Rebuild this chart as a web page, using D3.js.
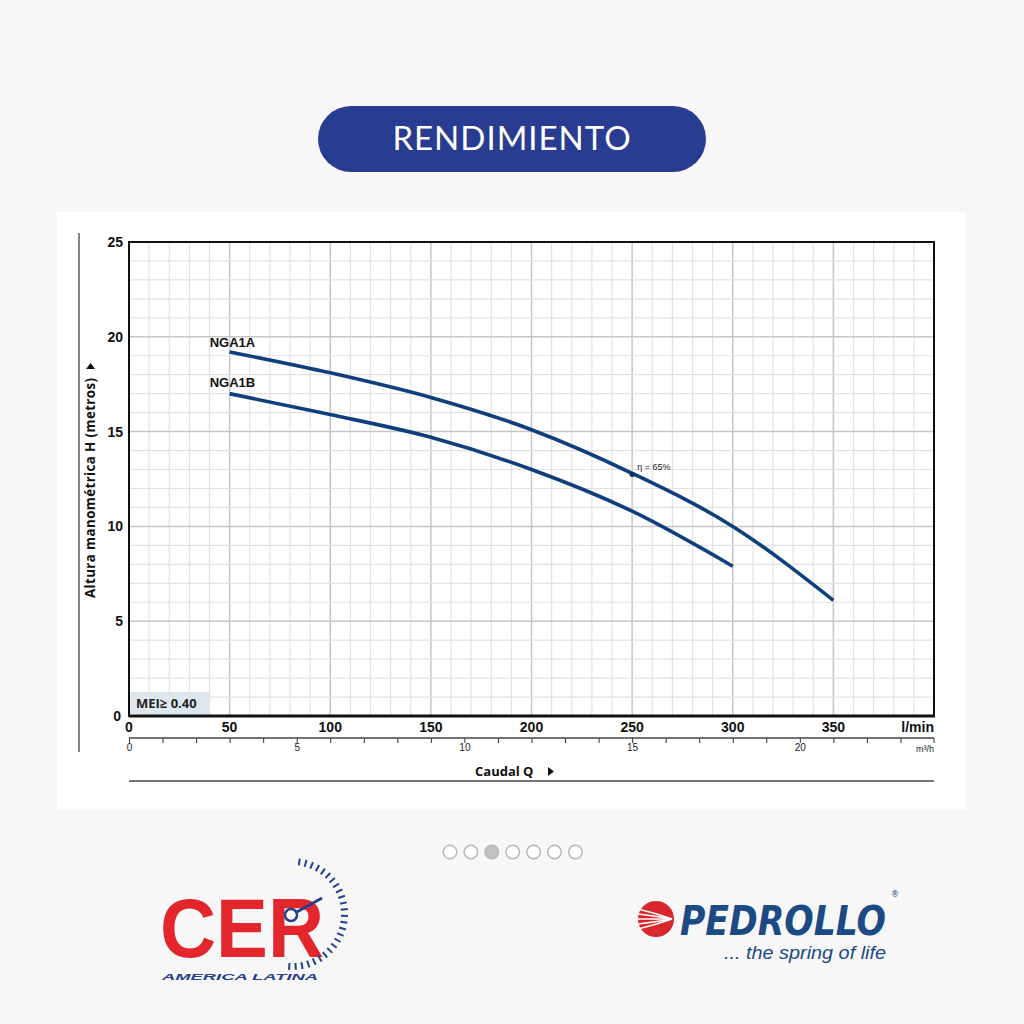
<!DOCTYPE html>
<html><head><meta charset="utf-8">
<script src="https://cdn.jsdelivr.net/npm/d3@7"></script>
<style>html,body{margin:0;padding:0;background:#f7f7f7;}svg{display:block;}</style>
</head><body>
<svg id="c" width="1024" height="1024"></svg>
<script>
// ---- data ----
const flowA = [50, 100, 150, 200, 250, 300, 350];          // l/min
const headNGA1A = [19.2, 18.1, 16.8, 15.1, 12.8, 10.0, 6.1]; // m
const flowB = [50, 100, 150, 200, 250, 300];
const headNGA1B = [17.0, 15.9, 14.7, 13.0, 10.8, 7.9];
const seriesNames = ["NGA1A", "NGA1B"];
const xTicksLmin = [0, 50, 100, 150, 200, 250, 300, 350];
const yTicks = [0, 5, 10, 15, 20, 25];
const m3hLabels = [0, 5, 10, 15, 20];
const effPoint = {q: 250, label: "η = 65%"};
const meiText = "MEI≥ 0.40";
const pageDots = [0, 1, 2, 3, 4, 5, 6];
const activeDot = 2;

const svg = d3.select("#c");
svg.append("rect").attr("width",1024).attr("height",1024).attr("fill","#f7f7f7");

// title pill
svg.append("rect").attr("x",318).attr("y",106).attr("width",388).attr("height",66).attr("rx",33)
  .attr("fill","#283c91");
svg.append("text").attr("x",512).attr("y",150).attr("text-anchor","middle")
  .attr("font-family","Lato").attr("font-size",33).attr("fill","#fff").attr("letter-spacing",1)
  .text("RENDIMIENTO");

// white panel
svg.append("rect").attr("x",57).attr("y",212).attr("width",909).attr("height",598).attr("fill","#ffffff");

const L = 129, R = 934, T = 242, B = 716;
const x = d3.scaleLinear().domain([0, 400]).range([L, R]);
const y = d3.scaleLinear().domain([0, 25]).range([B, T]);
const xm = d3.scaleLinear().domain([0, 400*60/1000]).range([L, R]);

const g = svg.append("g");
// grid
const minorX = d3.range(10, 400, 10), minorY = d3.range(1, 25, 1);
g.selectAll(".gx").data(minorX).join("line")
  .attr("x1", d=>x(d)).attr("x2", d=>x(d)).attr("y1", T).attr("y2", B)
  .attr("stroke", d => d % 50 === 0 ? "#c6c6c6" : "#e2e2e2").attr("stroke-width", d => d%50===0?1.5:1.2);
g.selectAll(".gy").data(minorY).join("line")
  .attr("y1", d=>y(d)).attr("y2", d=>y(d)).attr("x1", L).attr("x2", R)
  .attr("stroke", d => d % 5 === 0 ? "#c6c6c6" : "#e2e2e2").attr("stroke-width", d => d%5===0?1.5:1.2);

// MEI box
g.append("rect").attr("x",L+1).attr("y",692).attr("width",80).attr("height",22).attr("fill","#dfe7ee");
g.append("text").attr("x",L+7).attr("y",708).attr("font-family","Open Sans, Liberation Sans").attr("font-weight","bold")
  .attr("font-size",13).attr("fill","#222").text(meiText);

// border
g.append("rect").attr("x",L).attr("y",T).attr("width",R-L).attr("height",B-T)
  .attr("fill","none").attr("stroke","#111").attr("stroke-width",2);
g.append("line").attr("x1",L).attr("x2",R+1).attr("y1",B).attr("y2",B).attr("stroke","#111").attr("stroke-width",3);

// curves
const line = d3.line().x(d=>x(d[0])).y(d=>y(d[1])).curve(d3.curveMonotoneX);
const dataA = flowA.map((q,i)=>[q, headNGA1A[i]]);
const dataB = flowB.map((q,i)=>[q, headNGA1B[i]]);
[dataA, dataB].forEach(d => {
  g.append("path").attr("d", line(d)).attr("fill","none").attr("stroke","#0f3f7c")
   .attr("stroke-width",3.6).attr("stroke-linecap","butt");
});
g.append("text").attr("x", x(50)-20).attr("y", y(19.2)-5).attr("font-family","Liberation Sans Narrow, Liberation Sans")
  .attr("font-weight","bold").attr("font-size",13).attr("fill","#111").text(seriesNames[0]);
g.append("text").attr("x", x(50)-20).attr("y", y(17.0)-7).attr("font-family","Liberation Sans Narrow, Liberation Sans")
  .attr("font-weight","bold").attr("font-size",13).attr("fill","#111").text(seriesNames[1]);
const eIdx = flowA.indexOf(effPoint.q);
g.append("circle").attr("cx", x(effPoint.q)).attr("cy", y(headNGA1A[eIdx])+1).attr("r",2.6).attr("fill","#0a2f5e");
g.append("text").attr("x", x(effPoint.q)+5).attr("y", y(headNGA1A[eIdx])-3).attr("font-family","Liberation Sans Narrow, Liberation Sans")
  .attr("font-size",9).attr("fill","#222").text(effPoint.label);

// y tick labels
g.selectAll(".yl").data(yTicks).join("text")
  .attr("x", d => d===0 ? 121 : 123).attr("y", d=>y(d)+5).attr("text-anchor","end")
  .attr("font-family","Liberation Sans Narrow, Liberation Sans").attr("font-weight","bold").attr("font-size",14).attr("fill","#111")
  .text(d=>d);
// x tick labels l/min
g.selectAll(".xl").data(xTicksLmin).join("text")
  .attr("x", d=>x(d)).attr("y", 732).attr("text-anchor","middle")
  .attr("font-family","Liberation Sans Narrow, Liberation Sans").attr("font-weight","bold").attr("font-size",14).attr("fill","#111")
  .text(d=>d);
g.append("text").attr("x", R).attr("y",732).attr("text-anchor","end")
  .attr("font-family","Liberation Sans Narrow, Liberation Sans").attr("font-weight","bold").attr("font-size",14).attr("fill","#111").text("l/min");

// m3/h axis
const ay = 738;
const axm = d3.axisBottom(xm).tickValues(d3.range(0, 24, 1)).tickSize(5)
  .tickFormat(d => m3hLabels.includes(d) ? d : "");
const ag = svg.append("g").attr("transform", `translate(0,${ay})`).call(axm);
ag.select(".domain").remove();
ag.selectAll(".tick line").attr("stroke","#333");
ag.selectAll(".tick text").attr("font-family","Liberation Sans Narrow, Liberation Sans").attr("font-size",10).attr("fill","#222").attr("dy","0.45em");
svg.append("line").attr("x1",L).attr("x2",R).attr("y1",ay).attr("y2",ay).attr("stroke","#444").attr("stroke-width",1.3);
svg.append("line").attr("x1",R).attr("x2",R).attr("y1",ay).attr("y2",ay+5).attr("stroke","#333");
svg.append("text").attr("x",R).attr("y",752).attr("text-anchor","end")
  .attr("font-family","Liberation Sans Narrow, Liberation Sans").attr("font-size",9).attr("fill","#222").text("m³/h");

// x title
svg.append("text").attr("x",475).attr("y",776)
  .attr("font-family","Open Sans, Liberation Sans").attr("font-weight","bold").attr("font-size",13).attr("fill","#111")
  .text("Caudal  Q");
svg.append("path").attr("d","M548,767 L554,771.5 L548,776 Z").attr("fill","#111");
svg.append("line").attr("x1",L).attr("x2",R).attr("y1",781).attr("y2",781).attr("stroke","#444").attr("stroke-width",1.3);

// y title
svg.append("line").attr("x1",79).attr("x2",79).attr("y1",233).attr("y2",752).attr("stroke","#444").attr("stroke-width",1.3);
svg.append("text").attr("transform","translate(95,598) rotate(-90)").attr("text-anchor","start")
  .attr("font-family","Open Sans, Liberation Sans").attr("font-weight","bold").attr("font-size",13.3).attr("fill","#111")
  .attr("textLength",220).attr("lengthAdjust","spacing")
  .text("Altura manométrica H (metros)");
svg.append("path").attr("d","M86,369 L90.5,363 L95,369 Z").attr("fill","#111");

// pager dots
svg.selectAll(".dot").data(pageDots).join("circle")
  .attr("cx", d => 450 + d*20.9).attr("cy", 852).attr("r", 6.8)
  .attr("fill", d => d===activeDot ? "#c2c2c2" : "#fff").attr("stroke", "#b8b8b8").attr("stroke-width",1.5);

// CER logo
const cer = svg.append("g");
cer.append("text").attr("x",160).attr("y",957).attr("font-family","Liberation Sans").attr("font-weight","bold")
  .attr("font-size",84).attr("fill","#e2262b")
  .attr("textLength",164).attr("lengthAdjust","spacingAndGlyphs").text("CER");
cer.append("text").attr("x",162).attr("y",980).attr("font-family","Liberation Sans").attr("font-style","italic").attr("font-weight","bold")
  .attr("font-size",9.5).attr("fill","#25408f").attr("textLength",156).attr("lengthAdjust","spacingAndGlyphs").text("AMERICA LATINA");
const gc = {x: 292, y: 914}, rr = 56;
cer.selectAll(".gt").data(d3.range(-82, 98, 7)).join("line")
  .attr("x1", a => gc.x + (rr-7)*Math.cos(a*Math.PI/180)).attr("y1", a => gc.y + (rr-7)*Math.sin(a*Math.PI/180))
  .attr("x2", a => gc.x + rr*Math.cos(a*Math.PI/180)).attr("y2", a => gc.y + rr*Math.sin(a*Math.PI/180))
  .attr("stroke","#25408f").attr("stroke-width",2);
cer.append("line").attr("x1",295).attr("y1",913).attr("x2",322).attr("y2",898).attr("stroke","#25408f").attr("stroke-width",3);
cer.append("circle").attr("cx",291).attr("cy",915).attr("r",6).attr("fill","#fff").attr("stroke","#25408f").attr("stroke-width",2.5);

// Pedrollo logo
const pg = svg.append("g");
pg.append("circle").attr("cx",656).attr("cy",919).attr("r",18).attr("fill","#d8262d");
pg.selectAll(".st").data([-10,-5,0,5,10]).join("path")
  .attr("d", d => `M638,${919+d} Q655,${919+d*0.6} 672,919`).attr("stroke","#fff").attr("stroke-width",1.6).attr("fill","none");
pg.append("text").attr("x",680).attr("y",935).attr("font-family","DejaVu Sans").attr("font-style","italic").attr("font-weight","bold")
  .attr("font-size",40).attr("fill","#1b4a85").attr("textLength",206).attr("lengthAdjust","spacingAndGlyphs").text("PEDROLLO");
pg.append("text").attr("x",891).attr("y",897).attr("font-family","DejaVu Sans").attr("font-size",8).attr("fill","#1b4a85").text("®");
pg.append("text").attr("x",724).attr("y",959).attr("font-family","Liberation Sans").attr("font-style","italic")
  .attr("font-size",19).attr("fill","#1b4a85").attr("textLength",162).attr("lengthAdjust","spacingAndGlyphs").text("... the spring of life");
</script>
</body></html>
